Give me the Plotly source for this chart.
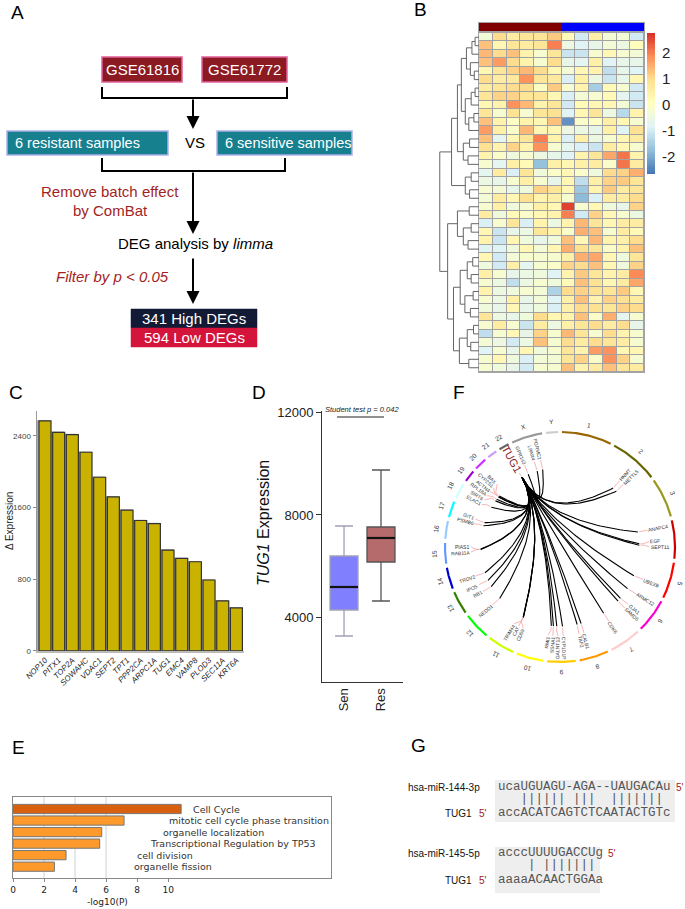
import numpy as np
import plotly.graph_objects as go

W, H = 685, 909


def px(x):
    return x / W


def py(y):
    return 1 - y / H


# ======================= DATA =======================
# --- Panel A (workflow) ---
a_sources = ["GSE61816", "GSE61772"]
a_groups = ["6 resistant samples", "6 sensitive samples"]
a_batch_text = ["Remove batch effect", "by ComBat"]
a_deg_high = 341
a_deg_low = 594
a_pcut = 0.05

# --- Panel B (heatmap, rows x 12 samples: 6 resistant + 6 sensitive) ---
b_matrix = [
    [-0.3, 1.0, 0.6, 0.8, 0.8, 1.2, 0.2, -1.0, 0.5, -0.3, -0.3, -1.0],
    [1.3, 0.3, 0.8, 0.6, 0.8, 2.0, -0.5, -0.8, -0.6, -0.3, -0.5, 0.1],
    [1.4, 1.0, 1.3, 0.4, -0.2, 0.8, -1.1, -1.1, -0.2, 0.3, -0.2, -0.3],
    [1.3, 1.7, 1.0, 0.4, -0.2, 1.0, -0.6, -0.7, 0.5, -0.8, -0.6, -0.6],
    [0.3, 0.8, 1.1, 1.4, 1.0, 0.3, -0.3, 0.3, 0.4, -1.2, -0.6, -0.8],
    [1.0, 0.6, 0.7, 1.8, 0.8, 0.7, -0.9, 0.5, -0.5, -1.1, -0.6, 0.3],
    [0.6, 0.8, 1.0, 1.0, 0.0, 1.2, -0.2, 0.4, -1.5, 0.2, -0.2, -1.0],
    [0.8, 1.1, 1.1, 0.8, 0.8, 0.3, -0.9, -0.3, -0.2, 0.2, -0.7, -1.0],
    [0.3, 0.4, 1.8, 1.4, 0.4, 0.8, -1.0, 0.2, 0.3, 0.3, -0.3, -1.1],
    [0.8, -0.2, 0.9, -0.2, 0.8, 0.9, -0.8, 0.3, 0.8, -0.5, -1.3, 0.4],
    [1.3, 0.4, 0.0, 0.4, 0.3, 1.3, -2.3, -0.1, 0.0, 0.5, 0.3, -0.2],
    [1.7, 0.5, -0.1, 1.4, 0.3, 0.3, -0.5, -0.5, -0.6, 0.5, -0.8, 0.9],
    [1.3, -0.7, 0.3, 0.8, 2.0, 0.4, -0.9, 0.5, -0.5, -0.2, 0.3, 0.6],
    [0.9, 0.4, 1.1, 0.4, 1.8, -0.2, -0.7, -0.9, -1.1, 0.6, 0.3, -0.2],
    [0.4, -0.1, -0.4, -0.2, -0.5, -0.6, -0.8, 0.4, 0.8, 1.6, 2.1, 0.4],
    [-0.2, -0.7, 0.5, 0.2, -1.7, 0.5, 0.3, 0.5, 0.6, -0.1, 2.1, 0.6],
    [-0.7, 0.6, -0.9, 0.8, -0.4, -0.1, 0.3, -0.1, -0.4, 1.0, 1.1, 1.5],
    [-0.5, -0.6, -0.2, 0.5, -0.2, -0.6, 0.3, -1.2, 0.5, 1.1, 1.2, 0.8],
    [-0.2, -0.3, -0.6, -0.4, 1.1, 0.8, 0.3, -1.6, 0.4, 1.2, 0.6, 0.8],
    [-0.3, 0.6, 0.3, 0.9, 0.4, 0.5, -0.2, -1.8, -0.9, 0.6, 0.6, 1.0],
    [-0.2, 0.5, -0.4, -0.2, 0.5, 0.3, 2.6, -0.2, 0.3, -0.4, -0.6, 1.1],
    [0.6, -0.4, 0.2, -0.1, 0.3, 0.4, 2.0, -1.0, 1.1, 0.3, -0.2, -0.5],
    [-0.9, -0.2, 0.8, -0.9, 0.4, -0.5, 0.4, 1.4, 0.8, 0.3, 0.6, 0.6],
    [0.3, -1.1, -0.6, -0.5, 0.8, 0.4, -0.1, 1.5, 1.3, -0.2, 0.6, 0.2],
    [0.4, -1.1, 0.3, -0.4, -0.6, -0.4, 1.3, 0.3, 1.4, 0.4, 0.5, 1.0],
    [-0.8, -0.8, -0.4, 0.3, -0.3, 0.3, 1.5, 0.9, 0.8, -0.1, 0.4, 1.3],
    [0.3, -1.0, -0.3, -0.2, -0.2, -0.2, 0.5, 1.5, 1.6, 0.3, -0.4, 0.8],
    [-0.4, -1.0, 0.5, -0.7, -0.2, -0.1, 1.1, 1.0, 1.3, 0.3, -0.4, 1.1],
    [0.5, -0.2, -0.6, -0.5, -0.4, -0.8, 0.4, 1.2, 0.8, 0.4, 0.6, 1.9],
    [-0.2, -0.5, -1.2, -0.5, -0.2, -0.4, 0.2, 1.3, 0.9, 0.3, 0.6, 1.6],
    [0.4, -0.5, -0.4, -0.2, -0.3, -1.4, 1.0, 1.1, 0.9, 0.8, 1.2, 0.3],
    [-0.2, -0.5, 0.5, -0.6, -0.3, -0.8, 0.5, 1.3, 0.4, 1.1, 0.9, 0.6],
    [-0.4, -0.6, 0.3, -0.6, -0.4, -0.9, 0.5, 1.0, 0.9, 0.8, 1.1, 1.0],
    [0.8, -0.5, -0.6, -0.4, 1.0, 0.3, 0.4, 1.3, -0.1, 1.5, -0.7, -0.2],
    [-0.2, 0.6, -0.2, -1.1, 0.6, -0.5, 0.5, 0.8, 1.0, 0.6, 1.0, -0.6],
    [-1.2, -0.2, 0.3, -0.6, 1.1, -0.2, 1.4, 0.8, -0.2, 1.0, 0.4, -0.2],
    [-0.3, -0.5, -1.0, -0.5, 1.3, -0.2, 1.0, 0.6, 1.0, 0.8, 0.6, -0.2],
    [-0.8, -0.2, -0.6, 0.3, -0.4, -0.2, 0.8, 0.4, 1.7, 1.8, 0.3, 0.3],
    [-0.2, 0.3, -0.4, -0.9, -0.3, -0.3, 0.8, 1.1, -0.1, 1.8, 1.1, -0.2],
    [-0.2, -0.4, -0.6, -1.0, -0.2, -0.2, 1.3, 0.4, 0.6, 1.3, 0.8, 0.6],
]
b_sample_group = [0] * 6 + [1] * 6          # 0 = resistant, 1 = sensitive
b_cbar_ticks = [-2, -1, 0, 1, 2]
b_zlim = [-2.65, 2.77]
# row dendrogram: (height, left, right), leaves = row index
b_tree_a = (5.5,
            (4.5,
             (3.2, (1.8, (1.0, 0, 1), 2), (2.2, 3, (1.2, 4, 5))),
             (3.5, (2.0, (1.0, 6, 7), 8), (2.6, (1.3, 9, 10), 11))),
            (4.0, (2.4, 12, 13), (2.8, 14, 15)))
b_tree_b = (3.5, (2.0, 16, 17), (2.4, 18, 19))
b_tree_c = (8.0,
            (5.5, (2.5, 20, 21), (4.0, (2.0, 22, 23), (2.8, 24, 25))),
            (6.5,
             (4.8, (3.0, (1.6, 26, 27), (2.0, 28, 29)), (3.6, (1.5, 30, 31), (2.2, 32, 33))),
             (5.0, (3.0, (1.4, 34, 35), (2.1, 36, 37)), (2.6, 38, 39))))
b_tree = (10.0, (7.0, b_tree_a, b_tree_b), b_tree_c)

# --- Panel C (bar chart) ---
c_genes = ["NOP10", "PITX1", "TOP2A", "SOWAHC", "VDAC1", "SEPT2", "TPT1", "PPP2CA",
           "ARPC1A", "TUG1", "EMC4", "VAMP8", "PLOD3", "SEC11A", "KRT6A"]
c_values = [2567, 2440, 2415, 2217, 1938, 1718, 1570, 1455, 1421, 1124, 1031, 994, 790, 556, 478]
c_ticks = [0, 800, 1600, 2400]

# --- Panel D (box plot) ---
d_groups = ["Sen", "Res"]
d_q1 = [4274, 6156]
d_median = [5176, 7097]
d_q3 = [6392, 7528]
d_lower = [3255, 4627]
d_upper = [7567, 9762]
d_ticks = [4000, 8000, 12000]
d_pvalue = 0.042

# --- Panel E (enrichment) ---
e_terms = ["Cell Cycle", "mitotic cell cycle phase transition", "organelle localization",
           "Transcriptional Regulation by TP53", "cell division", "organelle fission"]
e_values = [10.84, 7.16, 5.72, 5.59, 3.42, 2.67]
e_ticks = [0, 2, 4, 6, 8, 10]

# --- Panel F (circos) ---
f_chrom_names = [str(i) for i in range(1, 23)] + ["X", "Y"]
f_chrom_len = [249, 243, 198, 191, 181, 171, 159, 146, 141, 136, 135, 134,
               115, 107, 103, 90, 81, 78, 59, 63, 48, 51, 155, 59]
f_hub = ("TUG1", "22", 31.4)
f_target_names = ["GPR143", "LPAR4", "PGRMC1", "HNMT", "METTL5", "ANAPC4", "EGF", "SEPT11",
                  "UBE2B", "ARMC12", "GJA1", "SAMD5", "CDK6", "CALB1", "TAF2",
                  "CYP1D1P", "GALNT12", "SSNA1", "RMI1", "CAT", "TRIM44", "CD59", "NEDD1",
                  "RB1", "IPO5", "TRDV2", "RAB11A", "PIAS1", "PSMB6", "GIT1", "ELAC1",
                  "SIRT6", "RPL18A", "ACTN4", "CYP2S1", "BAX"]
f_target_chrom = ["X", "X", "X", "2", "2", "4", "4", "4",
                  "5", "6", "6", "6", "7", "8", "8",
                  "9", "9", "9", "9", "11", "11", "11", "12",
                  "13", "13", "14", "15", "15", "17", "17", "18",
                  "19", "19", "19", "19", "19"]
f_target_pos = [9.7, 78, 119, 138, 170, 25, 110, 120,
                133, 35, 121, 147, 92, 91, 120,
                60, 101, 125, 140, 34.4, 35.7, 33.7, 97,
                48, 98, 22, 66, 68, 5, 28, 48,
                4.2, 17.9, 39, 41.7, 49]

# --- Panel G (miRNA binding) ---
g_mirnas = ["hsa-miR-144-3p", "hsa-miR-145-5p"]
g_mirna_seqs = ["ucaUGUAGU-AGA--UAUGACAu", "acccUUUUGACCUg"]
g_pairs = ["   |||||| |||  |||||||", "    | |||||||"]
g_target_seqs = ["accACATCAGTCTCAATACTGTc", "aaaaACAACTGGAa"]
g_target = "TUG1"

# ======================= FIGURE =======================
SANS = "Liberation Sans, Arial, sans-serif"
MONO = "Liberation Mono, Courier New, monospace"
DV = "DejaVu Sans, sans-serif"
DARKRED = "#a31f24"

fig = go.Figure()
shapes = []
ann = []


def nb(s):
    return s.replace(" ", "\u00a0")


# ---------------- Panel A ----------------
def rect(x0, y0, x1, y1, fill, line, lw=1.5):
    shapes.append(dict(type="rect", xref="paper", yref="paper",
                       x0=px(x0), x1=px(x1), y0=py(y1), y1=py(y0),
                       fillcolor=fill, line=dict(color=line, width=lw)))


def text(x, y, s, size=15, color="black", xanchor="center", family=SANS, angle=0, yanchor="middle"):
    ann.append(dict(x=px(x), y=py(y), xref="paper", yref="paper", text=s, showarrow=False,
                    xanchor=xanchor, yanchor=yanchor, textangle=angle,
                    font=dict(size=size, color=color, family=family)))


def path(points, color="black", width=2):
    d = "M " + " L ".join(f"{px(a)},{py(b)}" for a, b in points)
    shapes.append(dict(type="path", xref="paper", yref="paper", path=d,
                       line=dict(color=color, width=width)))


def arrow(x, y0, y1):
    ann.append(dict(x=px(x), y=py(y1), ax=0, ay=-(y1 - y0), xref="paper", yref="paper",
                    axref="pixel", ayref="pixel", text="", showarrow=True,
                    arrowhead=2, arrowsize=1.3, arrowwidth=2, arrowcolor="black"))


src_boxes = [(102, 182), (202, 287)]
for (x0, x1), name in zip(src_boxes, a_sources):
    rect(x0, 57, x1, 82, "#8b1a22", "#e2609c", 1.5)
    text((x0 + x1) / 2, 69.5, name, 15, "white")
path([(102, 87), (102, 98), (287, 98), (287, 87)])
arrow(193, 98, 129)

grp_boxes = [(7, 168), (217, 352)]
for (x0, x1), name in zip(grp_boxes, a_groups):
    rect(x0, 131, x1, 155, "#17808f", "#aab0e8", 1.5)
    text(x0 + 6, 143, name, 14.5, "white", xanchor="left")
text(195, 143, "VS", 15)
path([(102, 158), (102, 171), (285, 171), (285, 158)])
arrow(193, 171, 234)
text(110, 191, a_batch_text[0], 15, DARKRED)
text(110, 210, a_batch_text[1], 15, DARKRED)
text(195, 243, "DEG analysis by <i>limma</i>", 15)
arrow(193, 257, 304)
text(113, 276, f"<i>Filter by p &lt; {a_pcut}</i>", 15, DARKRED)
rect(131, 309, 257, 328, "#131a35", "#131a35", 0.5)
text(194, 318.5, f"{a_deg_high} High DEGs", 15, "white")
rect(131, 328, 257, 347, "#d5143c", "#d5143c", 0.5)
text(194, 337.5, f"{a_deg_low} Low DEGs", 15, "white")

# ---------------- Panel B ----------------
n_rows, n_cols = len(b_matrix), len(b_matrix[0])
cols = list(range(n_cols))
rows = list(range(n_rows))
rdylbu_r = ["#4575B4", "#91BFDB", "#E0F3F8", "#FFFFBF", "#FEE090", "#FC8D59", "#D73027"]
heat_cs = [[i / 6, c] for i, c in enumerate(rdylbu_r)]
fig.add_trace(go.Heatmap(z=[[1] * n_cols for _ in rows], x=cols, y=rows,
                         colorscale=[[0, "#a3a3a3"], [1, "#a3a3a3"]], showscale=False,
                         hoverinfo="skip", xaxis="x", yaxis="y"))
fig.add_trace(go.Heatmap(z=b_matrix, x=cols, y=rows, xgap=1, ygap=1, colorscale=heat_cs,
                         zmin=b_zlim[0], zmax=b_zlim[1], showscale=False,
                         xaxis="x", yaxis="y"))
# colour key drawn on its own axis
key_vals = np.linspace(b_zlim[0], b_zlim[1], 120)
fig.add_trace(go.Heatmap(z=[[v] for v in key_vals], x=[0], y=key_vals, colorscale=heat_cs,
                         zmin=b_zlim[0], zmax=b_zlim[1], showscale=False,
                         xaxis="x8", yaxis="y8", hoverinfo="skip"))


def dendro(node):
    if isinstance(node, int):
        return float(node), 0.0, []
    h, left, right = node
    yl, hl, sl = dendro(left)
    yr, hr, sr = dendro(right)
    return (yl + yr) / 2, h, sl + sr + [[(hl, yl), (h, yl), (h, yr), (hr, yr)]]


_, _, segs = dendro(b_tree)
dx, dy = [], []
for s in segs:
    for a, b in s:
        dx.append(a)
        dy.append(b)
    dx.append(None)
    dy.append(None)
fig.add_trace(go.Scatter(x=dx, y=dy, mode="lines", line=dict(color="#666", width=1),
                         xaxis="x2", yaxis="y2", hoverinfo="skip"))

fig.add_trace(go.Heatmap(z=[b_sample_group], x=cols, y=[0],
                         colorscale=[[0, "#800000"], [0.5, "#800000"], [0.5, "#0000ff"], [1, "#0000ff"]],
                         zmin=0, zmax=1, showscale=False, xaxis="x3", yaxis="y3", hoverinfo="skip"))

# ---------------- Panel C ----------------
c_idx = list(range(len(c_genes)))
bw = 0.878
fig.add_trace(go.Bar(x=c_idx, y=c_values, width=bw, offset=-bw / 2 - 0.11,
                     marker=dict(color="#aaaaaa", line=dict(color="#aaaaaa", width=1.5)),
                     xaxis="x4", yaxis="y4", hoverinfo="skip"))
fig.add_trace(go.Bar(x=c_idx, y=c_values, width=bw, offset=-bw / 2,
                     marker=dict(color="#c9b300", line=dict(color="#333333", width=1.2)),
                     xaxis="x4", yaxis="y4"))
text(9, 521, "Δ Expression", 10, "#222", angle=-90)

# ---------------- Panel D ----------------
d_fill = ["#8080ff", "#b56a6c"]
d_line = ["#a0a0b8", "#555555"]
box_w = 0.757
for i, g in enumerate(d_groups):
    fig.add_trace(go.Box(x=[i], q1=[d_q1[i]], median=[d_median[i]], q3=[d_q3[i]],
                         lowerfence=[d_lower[i]], upperfence=[d_upper[i]], name=g,
                         width=box_w, whiskerwidth=0.64, fillcolor=d_fill[i],
                         line=dict(color=d_line[i], width=1.3), boxpoints=False,
                         xaxis="x5", yaxis="y5"))
    fig.add_trace(go.Scatter(x=[i - box_w / 2, i + box_w / 2], y=[d_median[i]] * 2, mode="lines",
                             line=dict(color="#111", width=2.2), xaxis="x5", yaxis="y5",
                             hoverinfo="skip"))
text(263, 523, "<i>TUG1</i> Expression", 16, "#111", angle=-90)
shapes.append(dict(type="line", xref="paper", yref="paper", x0=px(337), x1=px(384),
                   y0=py(417), y1=py(417), line=dict(color="#222", width=1.2)))
text(362, 409, f"<i>Student test p = {d_pvalue}</i>", 7.5, "#222")

# ---------------- Panel E ----------------
e_idx = list(range(len(e_terms)))
e_colors = ["#d9600f"] + ["#fd9a2b"] * (len(e_terms) - 1)
fig.add_trace(go.Bar(x=e_values, y=e_idx, orientation="h", width=0.8,
                     marker=dict(color=e_colors, line=dict(color="#777", width=1)),
                     xaxis="x6", yaxis="y6"))
for gx in [2, 4, 6]:
    shapes.append(dict(type="line", xref="x6", yref="y6 domain", x0=gx, x1=gx, y0=0, y1=1,
                       line=dict(color="#d0d0d0", width=1), layer="below"))
e_label_x = [11.48, 9.94, 9.55, 8.71, 7.87, 7.68]
for i, t in enumerate(e_terms):
    ann.append(dict(x=e_label_x[i], y=i, xref="x6", yref="y6", text=t, showarrow=False,
                    xanchor="left", yanchor="middle", font=dict(size=9.5, color="#333", family=DV)))
text(107, 902, "-log10(P)", 9, "#222", family=DV)

# ---------------- Panel F ----------------
FC = (560, 547)
FR = 115.0
gap = 2.0
tot = sum(f_chrom_len)
span_tot = 360 - gap * len(f_chrom_len)
chrom_span = {}
cur = gap / 2
for nm, L in zip(f_chrom_names, f_chrom_len):
    e = cur + L / tot * span_tot
    chrom_span[nm] = (cur, e, L)
    cur = e + gap


def gang(ch, pos):
    s, e, L = chrom_span[ch]
    return s + pos / L * (e - s)


def pol(r, th):
    t = np.deg2rad(th)
    return r * np.sin(t), r * np.cos(t)


chrom_colors = ["#996600", "#666600", "#99991E", "#CC0000", "#FF0000", "#FF00CC", "#FFCCCC",
                "#FF9900", "#FFCC00", "#FFFF00", "#CCFF00", "#00FF00", "#358000", "#0000CC",
                "#6699FF", "#99CCFF", "#00FFFF", "#CCFFFF", "#9900CC", "#CC33FF", "#CC99FF",
                "#666666", "#999999", "#CCCCCC"]


def norm_angle(a):
    return ((a + 180) % 360) - 180


for nm, col in zip(f_chrom_names, chrom_colors):
    s, e, L = chrom_span[nm]
    th = np.linspace(s, e, 40)
    xs, ys = pol(1.0, th)
    fig.add_trace(go.Scatter(x=xs, y=ys, mode="lines", line=dict(color=col, width=2.2),
                             xaxis="x7", yaxis="y7", hoverinfo="skip"))
    mid = (s + e) / 2
    lx, ly = pol(1.09, mid)
    ann.append(dict(x=lx, y=ly, xref="x7", yref="y7", text=nm, showarrow=False,
                    textangle=norm_angle(mid), font=dict(size=6.5, color="#333", family=SANS)))

R_LINK = 0.69
hub_th = gang(f_hub[1], f_hub[2])
p0 = np.array(pol(R_LINK, hub_th))
ctrl = 0.35 * p0
ts = np.linspace(0, 1, 50)[:, None]
lx_all, ly_all = [], []
gene_th = [gang(c, p) for c, p in zip(f_target_chrom, f_target_pos)]
for th in gene_th:
    p2 = np.array(pol(R_LINK, th))
    pts = (1 - ts) ** 2 * p0 + 2 * (1 - ts) * ts * ctrl + ts ** 2 * p2
    lx_all += list(pts[:, 0]) + [None]
    ly_all += list(pts[:, 1]) + [None]
fig.add_trace(go.Scatter(x=lx_all, y=ly_all, mode="lines", line=dict(color="black", width=1.1),
                         xaxis="x7", yaxis="y7", hoverinfo="skip"))

# label spreading
names = f_target_names + [f_hub[0]]
thetas = gene_th + [hub_th]
order = sorted(range(len(names)), key=lambda k: thetas[k])
lab = [thetas[k] for k in order]
is_hub = [names[k] == f_hub[0] for k in order]
for _ in range(500):
    moved = False
    for k in range(1, len(lab)):
        sep = 5.5 if (is_hub[k] or is_hub[k - 1]) else 3.3
        d = lab[k] - lab[k - 1]
        if d < sep - 1e-6:
            sh = (sep - d) / 2
            lab[k - 1] -= sh
            lab[k] += sh
            moved = True
    if not moved:
        break
con_x, con_y = [], []
for j, k in enumerate(order):
    nm = names[k]
    th_g = thetas[k]
    th_l = lab[j]
    hub = nm == f_hub[0]
    r0 = 0.745 if hub else 0.785
    fs = 11 if hub else 5
    pts = [pol(R_LINK + 0.01, th_g), pol(0.73, th_g), pol(r0 - 0.01, th_l)]
    for a, b in pts:
        con_x.append(a)
        con_y.append(b)
    con_x.append(None)
    con_y.append(None)
    Lpx = len(nm) * fs * (0.66 if hub else 0.64)
    rc = r0 + Lpx / FR / 2
    tx, ty = pol(rc, th_l)
    ang = th_l - 90 if (th_l % 360) < 180 else th_l - 270
    ann.append(dict(x=tx, y=ty, xref="x7", yref="y7", text=nm, showarrow=False,
                    textangle=norm_angle(ang),
                    font=dict(size=fs, color="#8b1a1a" if hub else "#333", family=SANS)))
fig.add_trace(go.Scatter(x=con_x, y=con_y, mode="lines", line=dict(color="#f4a3a3", width=0.8),
                         xaxis="x7", yaxis="y7", hoverinfo="skip"))

# ---------------- Panel G ----------------
g_layout = [dict(box=(495, 780, 675, 822), y=(787, 799, 813)),
            dict(box=(495, 847, 600, 893), y=(853, 865, 880))]
for i, gl in enumerate(g_layout):
    x0, y0, x1, y1 = gl["box"]
    rect(x0, y0, x1, y1, "#eeeeee", "#eeeeee", 0)
    r1, r2, r3 = gl["y"]
    text(406, r1, g_mirnas[i], 10, "#111", xanchor="left")
    text(496, r1, nb(g_mirna_seqs[i]), 12.5, "#555", xanchor="left", family=MONO)
    text(496 + len(g_mirna_seqs[i]) * 7.55 + 4, r1, "5'", 10, "#a01a1a", xanchor="left")
    text(496, r2, nb(g_pairs[i]), 12.5, "#555", xanchor="left", family=MONO)
    text(474, r3, g_target, 10, "#111", xanchor="right")
    text(477, r3, "5'", 10, "#a01a1a", xanchor="left")
    text(496, r3, nb(g_target_seqs[i]), 12.5, "#555", xanchor="left", family=MONO)

# ---------------- Panel letters ----------------
for L, (x, y) in zip("ABCDEFG", [(17, 12), (420, 10), (16, 392), (259, 392),
                                  (18, 747), (459, 392), (418, 745)]):
    text(x, y, L, 19, "black")

# ---------------- Axes ----------------
hidden = dict(visible=False, fixedrange=True, automargin=False)
heat_y = [py(372), py(33)]
fxr = [(430 - FC[0]) / FR, (685 - FC[0]) / FR]
fyr = [(FC[1] - 700) / FR, (FC[1] - 400) / FR]
plain = dict(showgrid=False, zeroline=False, automargin=False)

fig.update_layout(
    width=W, height=H, margin=dict(l=0, r=0, t=0, b=0, autoexpand=False),
    paper_bgcolor="white", plot_bgcolor="white", showlegend=False,
    barmode="overlay",
    font=dict(family=SANS, color="#222"),
    xaxis=dict(domain=[px(479), px(644)], range=[-0.5, n_cols - 0.5], showticklabels=False,
               ticks="", showline=True, mirror=True, linecolor="#a3a3a3", linewidth=1,
               anchor="y", **plain),
    yaxis=dict(domain=heat_y, range=[n_rows - 0.5, -0.5], showticklabels=False, ticks="",
               showline=True, mirror=True, linecolor="#a3a3a3", linewidth=1, anchor="x", **plain),
    xaxis2=dict(domain=[px(439), px(479)], range=[10.2, 0], anchor="y2", **hidden),
    yaxis2=dict(domain=heat_y, range=[n_rows - 0.5, -0.5], anchor="x2", **hidden),
    xaxis3=dict(domain=[px(479), px(644)], range=[-0.5, n_cols - 0.5], showticklabels=False,
                ticks="", showline=True, mirror=True, linecolor="#a3a3a3", linewidth=1,
                anchor="y3", **plain),
    yaxis3=dict(domain=[py(31), py(23)], range=[-0.5, 0.5], showticklabels=False, ticks="",
                showline=True, mirror=True, linecolor="#a3a3a3", linewidth=1, anchor="x3", **plain),
    xaxis4=dict(domain=[px(37), px(244)], range=[-0.585, 14.556], tickvals=c_idx,
                ticktext=[f"<i>{g}</i>" for g in c_genes], tickangle=-45, ticks="",
                tickfont=dict(size=8, color="#222"), showline=True, linecolor="#bbbbbb",
                linewidth=1.5, anchor="y4", **plain),
    yaxis4=dict(domain=[py(651), py(411)], range=[-3, 2678], tickvals=c_ticks,
                ticktext=[str(t) for t in c_ticks],
                tickfont=dict(size=8, color="#444"), ticks="outside", ticklen=3,
                tickcolor="#888", showline=True, linecolor="#999999", linewidth=1.5,
                anchor="x4", **plain),
    xaxis5=dict(domain=[px(322), px(403)], range=[-0.595, 1.595], tickvals=[0, 1],
                ticktext=d_groups, tickangle=-90, ticks="", tickfont=dict(size=13, color="#222"),
                showline=True, linecolor="#333", linewidth=1, anchor="y5", **plain),
    yaxis5=dict(domain=[py(682), py(411)], range=[1452, 12075], tickvals=d_ticks,
                ticktext=[str(t) for t in d_ticks],
                tickfont=dict(size=13, color="#222"), ticks="outside", ticklen=5,
                tickcolor="#333", showline=True, linecolor="#333", linewidth=1,
                anchor="x5", **plain),
    xaxis6=dict(domain=[px(13), px(331)], range=[0, 20.5], tickvals=e_ticks,
                tickfont=dict(size=9, color="#222", family=DV), ticks="outside", ticklen=3,
                tickcolor="#888", showline=True, mirror=True, linecolor="#888", linewidth=1,
                anchor="y6", **plain),
    yaxis6=dict(domain=[py(878), py(797)], range=[5.98, -1.04], showticklabels=False, ticks="",
                showline=True, mirror=True, linecolor="#888", linewidth=1, anchor="x6", **plain),
    xaxis7=dict(domain=[px(430), px(685)], range=fxr, anchor="y7", **hidden),
    yaxis7=dict(domain=[py(700), py(400)], range=fyr, anchor="x7", **hidden),
    xaxis8=dict(domain=[px(647), px(655)], range=[-0.5, 0.5], showticklabels=False, ticks="",
                anchor="y8", **plain),
    yaxis8=dict(domain=[py(174), py(33)], range=b_zlim, side="right", tickvals=b_cbar_ticks,
                ticktext=[str(t) for t in b_cbar_ticks], ticks="", ticklabelstandoff=6,
                tickfont=dict(size=15, color="#222"), showline=False, anchor="x8", **plain),
    shapes=shapes,
    annotations=ann,
)

fig.write_html("out.html", config={"displayModeBar": False, "staticPlot": True},
               post_script="document.body.style.margin='0px';")
